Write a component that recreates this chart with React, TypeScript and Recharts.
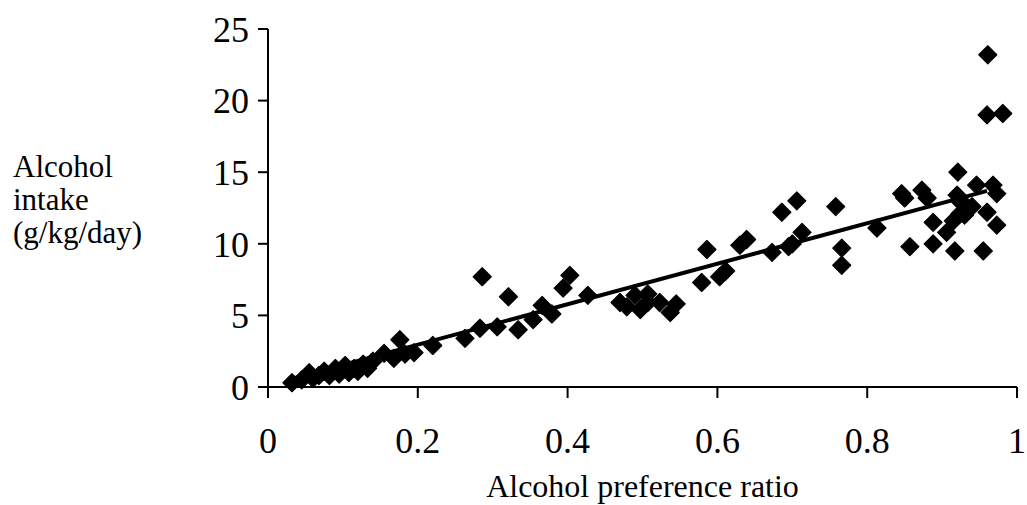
import React from "react";
import {
  ScatterChart,
  Scatter,
  XAxis,
  YAxis,
  ReferenceLine,
} from "recharts";

// Alcohol preference ratio for each animal
const preferenceRatio = [
  0.032, 0.045, 0.055, 0.06, 0.068, 0.075, 0.082, 0.09, 0.095, 0.103, 0.108,
  0.115, 0.12, 0.127, 0.133, 0.14, 0.155, 0.168, 0.176, 0.183, 0.195, 0.22,
  0.263, 0.283, 0.286, 0.306, 0.321, 0.334, 0.354, 0.366, 0.379, 0.394, 0.403,
  0.427, 0.47, 0.479, 0.49, 0.497, 0.507, 0.507, 0.523, 0.537, 0.545, 0.579,
  0.586, 0.603, 0.611, 0.63, 0.639, 0.673, 0.686, 0.695, 0.7, 0.706, 0.713,
  0.758, 0.766, 0.766, 0.813, 0.846, 0.85, 0.857, 0.873, 0.88, 0.888, 0.888,
  0.906, 0.915, 0.917, 0.921, 0.92, 0.924, 0.925, 0.93, 0.933, 0.94, 0.946,
  0.955, 0.96, 0.961, 0.96, 0.968, 0.973, 0.973, 0.981,
];

// Alcohol intake (g/kg/day) for each animal
const alcoholIntake = [
  0.3, 0.5, 1.0, 0.6, 0.8, 1.1, 0.8, 1.3, 0.9, 1.5, 1.0, 1.3, 1.1, 1.6, 1.3,
  1.8, 2.35, 2.0, 3.3, 2.3, 2.4, 2.9, 3.4, 4.1, 7.7, 4.2, 6.3, 4.0, 4.7, 5.7,
  5.1, 6.9, 7.8, 6.4, 5.9, 5.6, 6.4, 5.4, 6.5, 5.9, 5.9, 5.2, 5.8, 7.3, 9.6,
  7.7, 8.1, 9.9, 10.3, 9.4, 12.2, 9.8, 10.0, 13.0, 10.8, 12.6, 9.7, 8.5, 11.1,
  13.5, 13.2, 9.8, 13.75, 13.2, 11.5, 10.0, 10.8, 11.6, 9.5, 15.0, 13.4, 12.1,
  12.9, 12.0, 12.6, 12.6, 14.1, 9.5, 12.2, 23.2, 19.0, 14.1, 13.5, 11.3, 19.1,
];

// Linear trendline end points
const trendX = [0.03, 0.96];
const trendY = [0.55, 13.7];

const xTicks = [0, 0.2, 0.4, 0.6, 0.8, 1];
const yTicks = [0, 5, 10, 15, 20, 25];
const yLabelLines = ["Alcohol", "intake", "(g/kg/day)"];

const points = preferenceRatio.map((x, i) => ({ x, y: alcoholIntake[i] }));

const FONT = "'Liberation Serif', 'Times New Roman', serif";

const Diamond = (props: any) => {
  const { cx, cy } = props;
  const r = 9;
  return (
    <path
      d={`M${cx},${cy - r}L${cx + r},${cy}L${cx},${cy + r}L${cx - r},${cy}Z`}
      fill="#000"
      stroke="#000"
      strokeWidth={1.2}
      strokeLinejoin="round"
    />
  );
};

const YTitle = () => (
  <text fontFamily={FONT} fontSize={31} fill="#000">
    {yLabelLines.map((line, i) => (
      <tspan key={line} x={13} y={177 + i * 33}>
        {line}
      </tspan>
    ))}
  </text>
);

export default function App() {
  return (
    <div style={{ position: "absolute", left: 0, top: 0, background: "#fff" }}>
      <ScatterChart
        width={1027}
        height={505}
        margin={{ top: 29, right: 10, bottom: 0, left: 0 }}
      >
        <XAxis
          type="number"
          dataKey="x"
          domain={[0, 1]}
          ticks={xTicks}
          interval={0}
          height={118}
          tickSize={11}
          tickMargin={29}
          axisLine={{ stroke: "#000", strokeWidth: 2 }}
          tickLine={{ stroke: "#000", strokeWidth: 2 }}
          tick={{ fill: "#000", fontSize: 36, fontFamily: FONT }}
          label={{
            value: "Alcohol preference ratio",
            position: "insideBottom",
            offset: 8,
            fill: "#000",
            fontSize: 32,
            fontFamily: FONT,
          }}
        />
        <YAxis
          type="number"
          dataKey="y"
          domain={[0, 25]}
          ticks={yTicks}
          interval={0}
          width={268}
          tickSize={10}
          tickMargin={9}
          axisLine={{ stroke: "#000", strokeWidth: 2 }}
          tickLine={{ stroke: "#000", strokeWidth: 2 }}
          tick={{ fill: "#000", fontSize: 36, fontFamily: FONT }}
          label={{ content: () => <YTitle /> }}
        />
        <Scatter
          data={points}
          shape={<Diamond />}
          isAnimationActive={false}
        />
        <ReferenceLine
          segment={[
            { x: trendX[0], y: trendY[0] },
            { x: trendX[1], y: trendY[1] },
          ]}
          stroke="#000"
          strokeWidth={4}
          ifOverflow="visible"
        />
      </ScatterChart>
    </div>
  );
}
